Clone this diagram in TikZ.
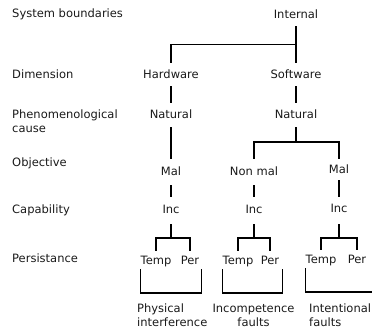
\documentclass[tikz,border=0pt]{standalone}
\usepackage{fontspec}
\setmainfont{DejaVu Sans}
\usepackage{tikz}
\usetikzlibrary{calc}
\definecolor{ink}{HTML}{1A1A1A}
\tikzset{lv/.style={anchor=base west,inner sep=0pt,align=left,text=ink,font=\fontsize{11.5}{14}\selectfont}}
\tikzset{tn/.style={anchor=base,inner sep=0pt,text height=9pt,text depth=0pt,text=ink,font=\fontsize{11.5}{14}\selectfont}}
\tikzset{br/.style={line width=1.6pt,black}}

\begin{document}
\begin{tikzpicture}[x=1pt,y=-1pt]
\useasboundingbox (0,0) rectangle (372,331);
\clip (0,0) rectangle (372,331);
\node[lv] (l1) at (12,18) {System boundaries};
\node[lv] (l2) at (12,79) {Dimension};
\node[lv] (l3) at (12,133) {Phenomenological\\cause};
\node[lv] (l4) at (12,167) {Objective};
\node[lv] (l5) at (12,214) {Capability};
\node[lv] (l6) at (12,262) {Persistance};
\node[tn] (int) at (296,19) {Internal};
\node[tn] (hw) at (171,79) {Hardware}; \node[tn] (sw) at (296,79) {Software};
\node[tn] (nat1) at (171,119) {Natural}; \node[tn] (nat2) at (296,119) {Natural};
\node[tn] (mal1) at (171,176) {Mal}; \node[tn] (nmal) at (254,176) {Non mal}; \node[tn] (mal2) at (339,174) {Mal};
\node[tn] (inc1) at (171,214) {Inc}; \node[tn] (inc2) at (254,214) {Inc}; \node[tn] (inc3) at (339,213) {Inc};
\node[tn] (tmp1) at (156,264) {Temp}; \node[tn] (per1) at (190,264) {Per};
\node[tn] (tmp2) at (238,264) {Temp}; \node[tn] (per2) at (270,264) {Per};
\node[tn] (tmp3) at (321,263) {Temp}; \node[tn] (per3) at (357,263) {Per};
\node[lv] (f1) at (137,326) {Physical\\interference};
\node[lv,anchor=base,align=center] (f2) at (253.5,326) {Incompetence\\faults};
\node[lv] (f3) at (309,326) {Intentional\\faults};
\coordinate (j1) at ($(int.south)!.5!(sw.north)$);
\coordinate (j2) at (296,142);
\coordinate (j3) at (171,238); \coordinate (j4) at (254,238); \coordinate (j5) at (339,238);
\draw[br] ([yshift=-7pt]int.south) -- ([yshift=7pt]sw.north);
\draw[br] ([yshift=7pt]hw.north) |- (j1);
\draw[br] ([yshift=-7pt]hw.south) -- ([yshift=7pt]nat1.north);
\draw[br] ([yshift=-7pt]sw.south) -- ([yshift=7pt]nat2.north);
\draw[br] ([yshift=-8pt]nat1.south) -- ([yshift=8pt]mal1.north);
\draw[br] ([yshift=-8pt]nat2.south) -- (j2);
\draw[br] ([yshift=8pt]nmal.north) |- (j2) -| ([yshift=6pt]mal2.north);
\draw[br] ([yshift=-9pt]mal1.south) -- ([yshift=8pt]inc1.north);
\draw[br] ([yshift=-9pt]nmal.south) -- ([yshift=8pt]inc2.north);
\draw[br] ([yshift=-6pt]mal2.south) -- ([yshift=7pt]inc3.north);
\draw[br] ([yshift=-10pt]inc1.south) -- (j3);
\draw[br] ([yshift=-10pt]inc2.south) -- (j4);
\draw[br] ([yshift=-11pt]inc3.south) -- (j5);
\draw[br] ([yshift=4pt]tmp1.north) |- (j3) -| ([yshift=4pt]per1.north);
\draw[br] ([yshift=4pt]tmp2.north) |- (j4) -| ([yshift=4pt]per2.north);
\draw[br] ([yshift=4pt]tmp3.north) |- (j5) -| ([yshift=4pt]per3.north);
\draw[br] ([yshift=-5pt]tmp1.south west) -- ++(0,24) -| ([xshift=2pt,yshift=-5pt]per1.south east);
\draw[br] ([yshift=-5pt]tmp2.south west) -- ++(0,24) -| ([xshift=3pt,yshift=-5pt]per2.south east);
\draw[br] ([yshift=-5pt]tmp3.south west) -- ++(0,24) -| ([xshift=14pt,yshift=-5pt]per3.south east);
\end{tikzpicture}
\end{document}
